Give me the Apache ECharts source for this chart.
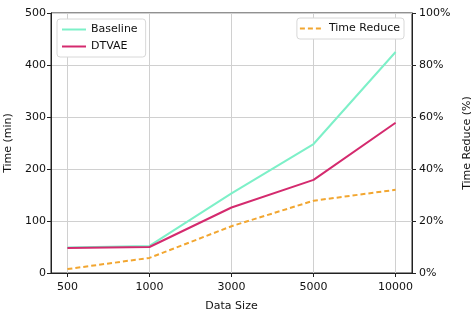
<!DOCTYPE html>
<html><head><meta charset="utf-8">
<script src="https://cdn.jsdelivr.net/npm/echarts@6/dist/echarts.min.js"></script>
<style>html,body{margin:0;padding:0;background:#fff}#c{width:471px;height:319px}</style>
</head><body><div id="c"></div>
<script>
var categories = ['500', '1000', '3000', '5000', '10000'];
var baseline = [49, 52, 153, 248, 425];
var dtvae = [48, 50, 126, 179, 289];
var timeReduce = [1.5, 5.8, 18, 27.8, 32];
var leftTicks = [0, 100, 200, 300, 400, 500];
var rightTicks = [0, 20, 40, 60, 80, 100];

function pairs(arr){ return arr.map(function(v,i){ return [i, v]; }); }
var idx = categories.map(function(c,i){ return i; });
var font = 'DejaVu Sans';
var chart = echarts.init(document.getElementById('c'));
chart.setOption({
  animation: false,
  backgroundColor: '#fff',
  textStyle: { fontFamily: font },
  grid: { left: 51, right: 59, top: 13, bottom: 46, containLabel: false, outerBoundsMode: 'none',
    show: true, borderColor: '#222', borderWidth: 1, backgroundColor: 'transparent' },
  legend: [
    { data: ['Baseline', 'DTVAE'], orient: 'vertical', left: 57, top: 19, itemWidth: 24, itemHeight: 10, itemGap: 6,
      padding: [5, 8, 5, 4], borderColor: '#d8d8d8', borderWidth: 1, borderRadius: 3, backgroundColor: '#fff',
      itemStyle: { color: 'transparent', borderWidth: 0, opacity: 0 },
      textStyle: { fontFamily: font, fontSize: 11, color: '#111' } },
    { data: ['Time Reduce'], orient: 'vertical', right: 67, top: 18, itemWidth: 24, itemHeight: 10,
      padding: [5, 4, 5, 2], borderColor: '#d8d8d8', borderWidth: 1, borderRadius: 3, backgroundColor: '#fff',
      itemStyle: { color: 'transparent', borderWidth: 0, opacity: 0 },
      textStyle: { fontFamily: font, fontSize: 11, color: '#111' } }
  ],
  xAxis: {
    type: 'value', min: -0.2, max: 4.2,
    name: 'Data Size', nameLocation: 'middle', nameGap: 28,
    nameTextStyle: { fontFamily: font, fontSize: 11, color: '#111' },
    axisLine: { show: true, onZero: false, lineStyle: { color: '#222', width: 1 } },
    axisTick: { show: true, inside: false, length: 4, lineStyle: { color: '#222' }, customValues: idx },
    axisLabel: { customValues: idx, fontFamily: font, fontSize: 11, color: '#111', margin: 9,
      formatter: function(v){ return categories[Math.round(v)]; } },
    splitLine: { show: true, lineStyle: { color: '#d0d0d0', width: 1 } }
  },
  yAxis: [
    { type: 'value', min: 0, max: 500, interval: 100, position: 'left',
      name: 'Time (min)', nameLocation: 'middle', nameGap: 34, nameRotate: 90,
      nameTextStyle: { fontFamily: font, fontSize: 11, color: '#111' },
      axisLine: { show: true, onZero: false, lineStyle: { color: '#222' } },
      axisTick: { show: true, length: 4, lineStyle: { color: '#222' } },
      axisLabel: { fontFamily: font, fontSize: 11, color: '#111', margin: 5,
        formatter: function(v){ return leftTicks.indexOf(v) >= 0 ? String(v) : ''; } },
      splitLine: { show: true, lineStyle: { color: '#d0d0d0', width: 1 } } },
    { type: 'value', min: 0, max: 100, interval: 20, position: 'right',
      name: 'Time Reduce (%)', nameLocation: 'middle', nameGap: 44, nameRotate: 90,
      nameTextStyle: { fontFamily: font, fontSize: 11, color: '#111' },
      axisLine: { show: true, onZero: false, lineStyle: { color: '#222' } },
      axisTick: { show: true, length: 4, lineStyle: { color: '#222' } },
      axisLabel: { fontFamily: font, fontSize: 11, color: '#111', margin: 7,
        formatter: function(v){ return rightTicks.indexOf(v) >= 0 ? v + '%' : ''; } },
      splitLine: { show: false } }
  ],
  series: [
    { name: 'Baseline', type: 'line', yAxisIndex: 0, data: pairs(baseline), symbol: 'none',
      lineStyle: { color: '#7df0c8', width: 2 }, itemStyle: { color: '#7df0c8' } },
    { name: 'DTVAE', type: 'line', yAxisIndex: 0, data: pairs(dtvae), symbol: 'none',
      lineStyle: { color: '#d42a6e', width: 2 }, itemStyle: { color: '#d42a6e' } },
    { name: 'Time Reduce', type: 'line', yAxisIndex: 1, data: pairs(timeReduce), symbol: 'none',
      lineStyle: { color: '#f2a630', width: 2, type: [5, 3] }, itemStyle: { color: '#f2a630' } }
  ]
});
</script></body></html>
